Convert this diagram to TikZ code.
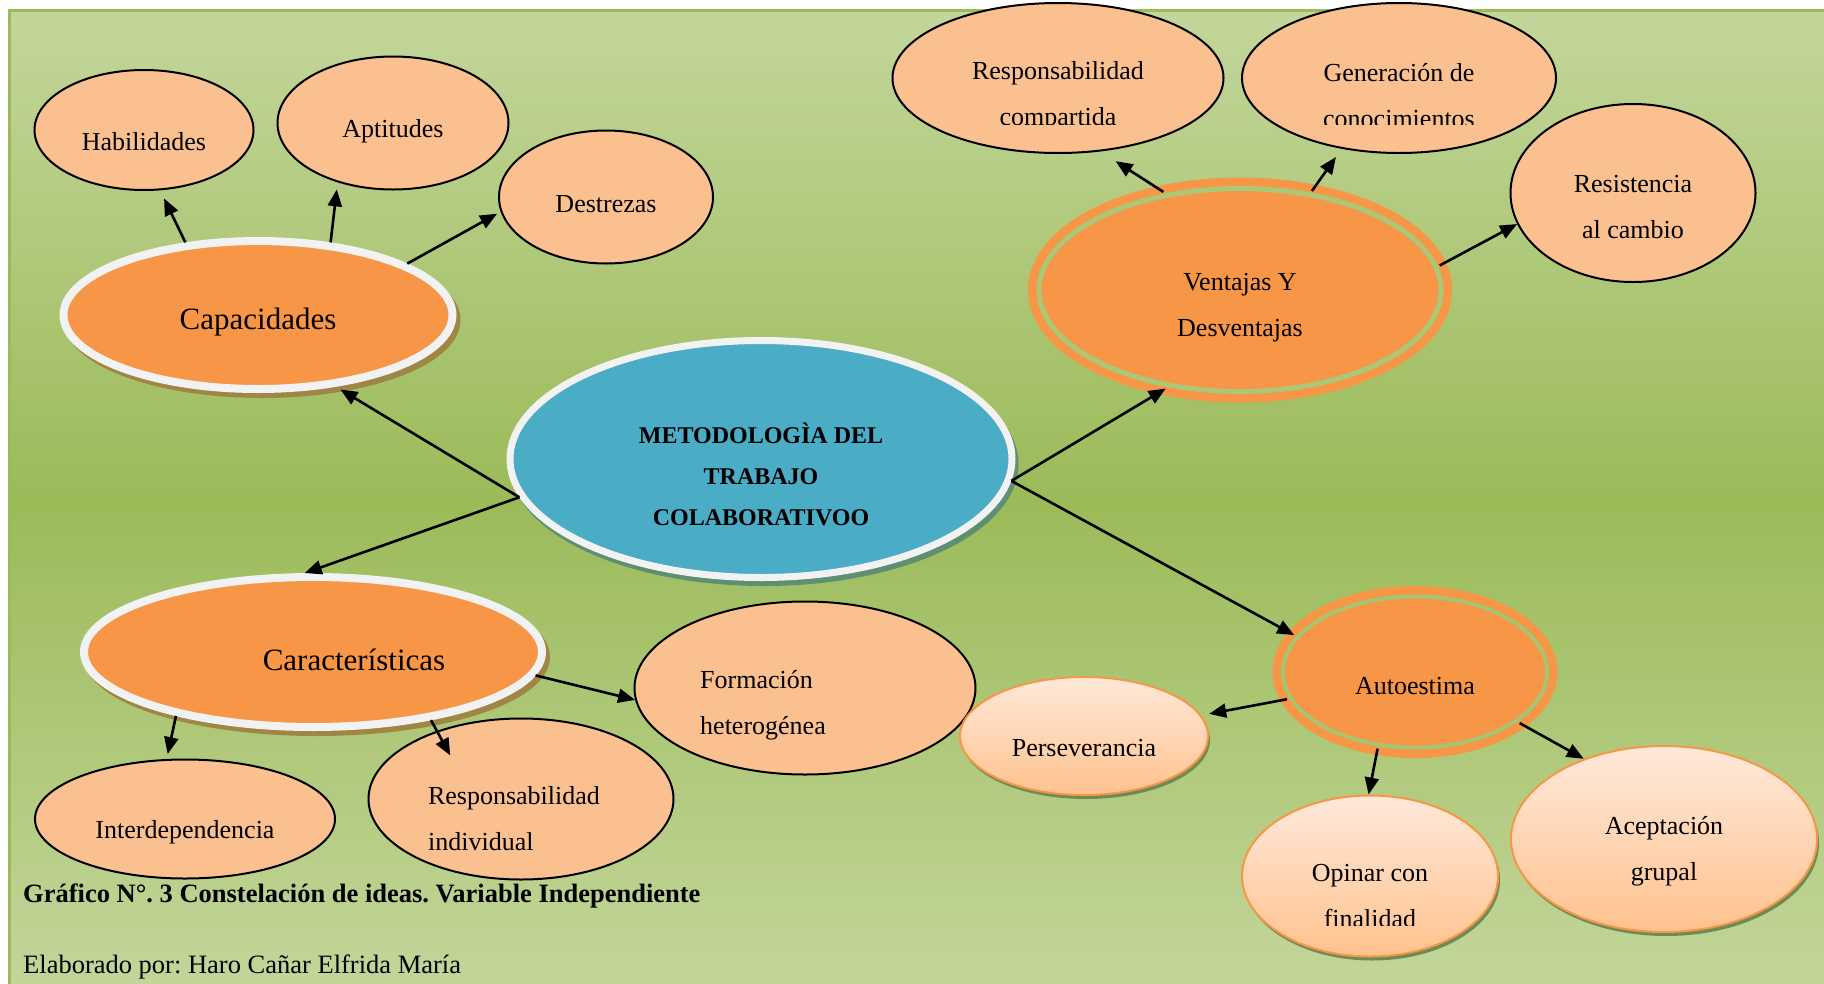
\documentclass[tikz,border=0pt]{standalone}
\usepackage{fontspec}
\setmainfont{Liberation Serif}
\usetikzlibrary{shapes.geometric, arrows.meta}

\definecolor{bgl}{HTML}{C3D69B}
\definecolor{bgd}{HTML}{9BBB59}
\definecolor{sun}{HTML}{F79646}
\definecolor{peach}{HTML}{FAC090}
\definecolor{sky}{HTML}{4BACC6}
\definecolor{ringw}{HTML}{F2F2F2}
\definecolor{capshade}{HTML}{A08645}
\definecolor{skyshade}{HTML}{5E8F72}
\definecolor{leafshade}{HTML}{6E8B55}
\definecolor{cream}{HTML}{FFE9DA}
\definecolor{apricot}{HTML}{FFC28E}

\begin{document}
\frenchspacing
\begin{tikzpicture}[x=1pt, y=-1pt]
	\tikzstyle{idea}  = [ellipse, inner sep=0pt, draw=black, line width=2pt, fill=peach]
	\tikzstyle{ideaB} = [ellipse, inner sep=0pt, draw=sun, line width=2pt, top color=cream, bottom color=apricot, preaction={fill=leafshade, transform canvas={shift={(2pt,-4pt)}}}]
	\tikzstyle{hub}   = [ellipse, inner sep=0pt, draw=ringw, line width=8pt, fill=sun, preaction={draw=capshade, fill=capshade, line width=8pt, transform canvas={shift={(4pt,-5pt)}}}]
	\tikzstyle{core}  = [ellipse, inner sep=0pt, draw=ringw, line width=7pt, fill=sky, preaction={draw=skyshade, fill=skyshade, line width=7pt, transform canvas={shift={(3pt,-5pt)}}}]
	\tikzset{knot/.style={ellipse, inner sep=0pt, draw=sun, line width=8.5pt, double=#1, fill=sun}}
	\tikzstyle{txt}   = [inner sep=0pt, align=center, font=\fontsize{26pt}{46pt}\selectfont]
	\tikzstyle{txtL}  = [inner sep=0pt, align=center, font=\fontsize{31pt}{46pt}\selectfont]
	\tikzstyle{txtB}  = [inner sep=0pt, align=center, font=\fontsize{24pt}{41pt}\selectfont\bfseries]
	\tikzstyle{arr}   = [-{Triangle[length=17pt, width=14pt]}, line width=2.6pt, black]

	\useasboundingbox (0,0) rectangle (1824,983);
	\clip (0,0) rectangle (1824,983);

	% fondo
	\fill[white] (0,0) rectangle (1824,983);
	\shade[top color=bgl, bottom color=bgl, middle color=bgd] (9,10) rectangle (1840,990);
	\draw[bgd, line width=3pt] (9,10) rectangle (1840,990);

	\node[core, minimum width=502, minimum height=237, label={[txtB, yshift=-15pt]center:METODOLOGÌA DEL\\TRABAJO\\COLABORATIVOO}] (metod) at (761,459) {};

	\node[hub, minimum width=389, minimum height=148, label={[txtL, yshift=-7pt]center:Capacidades}] (cap) at (258,315) {};
	\node[hub, minimum width=458, minimum height=150, label={[txtL, xshift=41pt, yshift=-8pt]center:Características}] (car) at (313,652) {};

	\node[knot=bgd!57!bgl, double distance=5pt, minimum width=402, minimum height=203, label={[txt, yshift=-18pt]center:Ventajas Y\\Desventajas}] (vent) at (1240,290) {};
	\node[knot=bgd!65!bgl, double distance=4pt, minimum width=264, minimum height=151, label={[txt, yshift=-14pt]center:Autoestima}] (auto) at (1415,672) {};

	\foreach \name/\x/\y/\w/\h/\dy/\txt in {hab/144/130/219/120/12/Habilidades, apt/393/123/231/133/8/Aptitudes, des/606/197/214/133/7/Destrezas, inter/185/819/300/119/13/Interdependencia, res/1633/193/245/178/14/{Resistencia\\al cambio}}
		\node[idea, minimum width=\w, minimum height=\h, label={[txt, yshift=-\dy pt]center:\txt}] (\name) at (\x,\y) {};

	\node[idea, minimum width=341, minimum height=173, label={[txt, align=left, xshift=-42pt, yshift=-17pt]center:Formación\\heterogénea}] (form) at (805,688) {};
	\node[idea, minimum width=305, minimum height=161, label={[txt, align=left, xshift=-7pt, yshift=-20pt]center:Responsabilidad\\individual}] (rind) at (521,799) {};
	\node[idea, minimum width=331, minimum height=150] (rcomp) at (1058,78) {};
	\node[idea, minimum width=314, minimum height=150] (gen) at (1399,78) {};

	\foreach \name/\x/\y/\w/\h/\dy/\txt in {pers/1084/736/248/118/12/Perseverancia, acep/1664/839/306/186/12/{Aceptación\\grupal}}
		\node[ideaB, minimum width=\w, minimum height=\h, label={[txt, yshift=-\dy pt]center:\txt}] (\name) at (\x,\y) {};
	\node[ideaB, minimum width=256, minimum height=161] (opin) at (1370,876) {};

	% textos cortados
	\begin{scope}
		\clip (880,0) rectangle (1570,124);
		\node[txt] (rcomp-t) at ([yshift=-18pt]rcomp.center) {Responsabilidad\\compartida};
		\node[txt] (gen-t) at ([yshift=-18pt]gen.center) {Generación de\\conocimientos};
	\end{scope}
	\begin{scope}
		\clip (1230,780) rectangle (1510,925);
		\node[txt] (opin-t) at ([yshift=-20pt]opin.center) {Opinar con\\finalidad};
	\end{scope}

	\draw[arr] (metod.189) -- ([shift={(3pt,-3pt)}]cap.-42);
	\draw[arr] (metod.189) -- (car.96);
	\draw[arr] (metod.-5) -- (vent.-127);
	\draw[arr] (metod.-5) -- (auto.163);
	\draw[arr, shorten >=9pt] (cap.135) -- (hab.-75);
	\draw[arr, shorten >=7pt] (cap.45) -- (apt.-133);
	\draw[arr, shorten >=4pt] (cap.19) -- (des.188);
	\draw[arr, shorten >=18pt] (vent.128) -- (rcomp.-60);
	\draw[arr, shorten >=10pt] (vent.54) -- (gen.-129);
	\draw[arr] (vent.7.5) -- (res.-165);
	\draw[arr] (car.-6) -- (form.184);
	\draw[arr, shorten >=5pt] (car.205) -- (inter.107);
	\draw[arr, shorten >=-28pt] (car.-30) -- (rind.141);
	\draw[arr, shorten >=8pt] (auto.192) -- (pers.10);
	\draw[arr] (auto.-116) -- (opin.91);
	\draw[arr] (auto.-26) -- (acep.135);

	\node[anchor=base west, inner sep=0pt, font=\fontsize{26.5pt}{30pt}\selectfont\bfseries] (grafico) at (23,902) {Gráfico N°. 3 Constelación de ideas. Variable Independiente};
	\node[anchor=base west, inner sep=0pt, font=\fontsize{26.5pt}{30pt}\selectfont] (autor) at (23,973) {Elaborado por: Haro Cañar Elfrida María};
\end{tikzpicture}
\end{document}
